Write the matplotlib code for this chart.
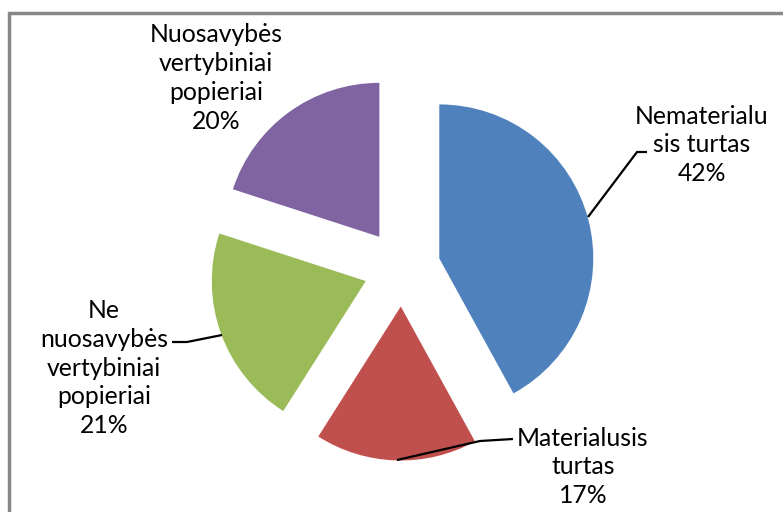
import matplotlib
matplotlib.use("Agg")
import matplotlib.pyplot as plt
from matplotlib.patches import Rectangle

# ---- data ----
categories = ["Nematerialu\nsis turtas", "Materialusis\nturtas",
              "Ne\nnuosavybės\nvertybiniai\npopieriai",
              "Nuosavybės\nvertybiniai\npopieriai"]
values = [42, 17, 21, 20]
colors = ["#4F81BD", "#C0504D", "#9BBB59", "#8064A2"]

W, H = 783, 512
fig = plt.figure(figsize=(W / 100, H / 100), dpi=100)
ax = fig.add_axes([0, 0, 1, 1])

def Y(y):
    return H - y

ax.pie(values, colors=colors, startangle=90, counterclock=False,
       explode=[38.5] * len(values), radius=154, center=(402, Y(268)),
       wedgeprops=dict(linewidth=0), frame=False)
ax.set_xlim(0, W)
ax.set_ylim(0, H)
ax.set_aspect("equal")
ax.axis("off")

# label positions (pixel coords of text centre)
label_pos = [(702, 145), (583, 467), (104, 368), (216, 78)]
for name, v, (x, y) in zip(categories, values, label_pos):
    ax.text(x, Y(y), f"{name}\n{v}%", ha="center", va="center",
            fontsize=17.8, family=["Lato", "DejaVu Sans"], color="#000000",
            linespacing=1.3)

# leader lines
leaders = [
    [(588, 217), (637, 152), (647, 152)],
    [(397, 460), (480, 441), (513, 439)],
    [(222, 335), (187, 342), (172, 342)],
]
for pts in leaders:
    xs = [p[0] for p in pts]
    ys = [Y(p[1]) for p in pts]
    ax.plot(xs, ys, color="black", lw=1.6, solid_capstyle="butt")

# chart frame (extends past right/bottom edges)
ax.add_patch(Rectangle((9, -20), W + 20, Y(13) + 20, fill=False,
                       edgecolor="#878787", lw=2.5, clip_on=False))

fig.savefig("out.png", dpi=100)
